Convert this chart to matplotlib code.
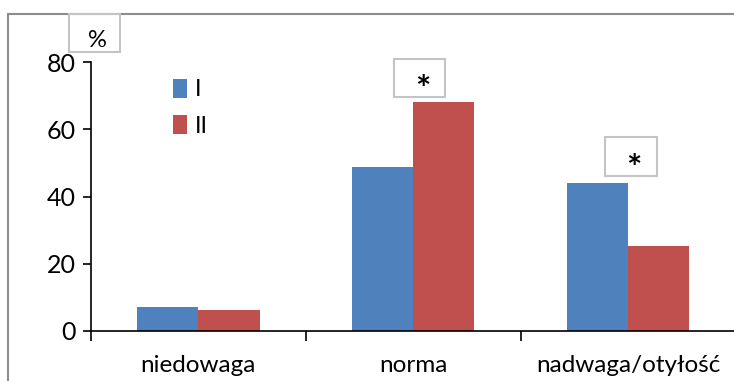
import matplotlib.pyplot as plt
import matplotlib.patches as patches
import numpy as np

# Data
categories = ['niedowaga', 'norma', 'nadwaga/otyłość']
series_names = ['I', 'II']
values_I = [7.0, 48.7, 44.0]
values_II = [6.2, 68.0, 25.2]
significant = [False, True, True]

plt.rcParams['font.family'] = ['Lato', 'DejaVu Sans']

W, H = 734, 381
fig = plt.figure(figsize=(W / 100, H / 100), dpi=100)

def px(x, y):
    # pixel (from top-left) -> figure coords
    return x / W, 1 - y / H

# axes placement
left, top = px(91, 62)
right, bottom = px(735.5, 331)
ax = fig.add_axes([left, bottom, right - left, top - bottom])

x = np.arange(len(categories))
bar_width = 0.285
ax.bar(x - bar_width / 2, values_I, bar_width, color='#4F81BD', label=series_names[0])
ax.bar(x + bar_width / 2, values_II, bar_width, color='#C0504D', label=series_names[1])

ax.set_xlim(-0.5, 2.5)
ax.set_ylim(0, 80)
ax.set_yticks([0, 20, 40, 60, 80])
ax.set_xticks(x)
ax.set_xticklabels(categories)
ax.set_xticks([-0.5, 0.5, 1.5, 2.5], minor=True)
ax.tick_params(axis='x', which='major', length=0, pad=17, labelsize=17.5)
ax.tick_params(axis='x', which='minor', length=7, width=1.2, direction='out')
ax.tick_params(axis='y', length=6, width=1.2, labelsize=18, pad=5)
for s in ['top', 'right']:
    ax.spines[s].set_visible(False)
for s in ['left', 'bottom']:
    ax.spines[s].set_linewidth(1.2)
    ax.spines[s].set_color('black')

# legend
ax.legend(loc='upper left', bbox_to_anchor=px(156, 62),
          bbox_transform=fig.transFigure, frameon=False, fontsize=17,
          handlelength=0.6, handleheight=0.9, handletextpad=0.35, labelspacing=0.6,
          borderpad=0.2)

# outer chart frame (cut off at right and bottom)
x0, y0 = px(8, 14)
fig.patches.append(patches.Rectangle((x0, -0.2), 1.5, y0 + 0.2, transform=fig.transFigure,
                                     fill=False, edgecolor='#8c8c8c', linewidth=1.5))

def box(x1, y1, x2, y2):
    a, b = px(x1, y2)
    c, d = px(x2, y1)
    fig.patches.append(patches.Rectangle((a, b), c - a, d - b, transform=fig.transFigure,
                                         fill=False, edgecolor='#c4c4c4', linewidth=1.5))

# "%" label box
box(69, 14, 120, 52)
fig.text(*px(97, 47), '%', ha='center', va='baseline', fontsize=17)

# significance boxes
boxes = {1: (394, 59, 445, 97), 2: (605, 137, 657, 176)}
for i, sig in enumerate(significant):
    if sig:
        bx1, by1, bx2, by2 = boxes[i]
        box(bx1, by1, bx2, by2)
        fig.text(*px((bx1 + bx2) / 2 + 3, by2 + 4), '*', ha='center', va='baseline',
                 fontsize=26, fontweight='bold')

fig.savefig('out.png', dpi=100)
